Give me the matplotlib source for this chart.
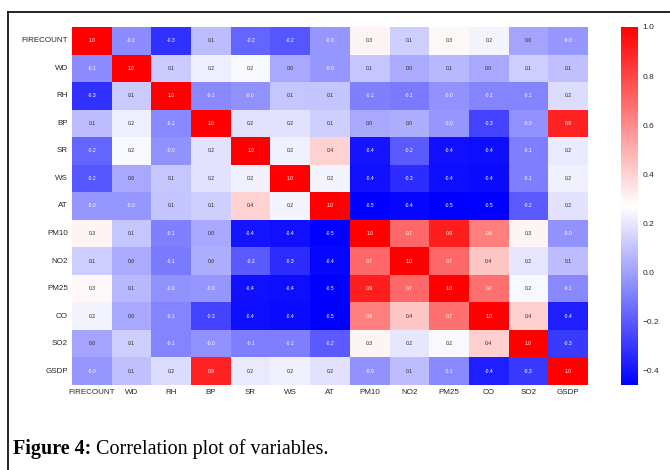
""" correlation heatmap, figure 4 """

import matplotlib
matplotlib.use("Agg")
import matplotlib.pyplot as plt
from matplotlib.lines import Line2D
import numpy as np
import seaborn as sns

variables = ["FIRECOUNT", "WD", "RH", "BP", "SR", "WS", "AT",
             "PM10", "NO2", "PM25", "CO", "SO2", "GSDP"]

# upper triangle of the correlation matrix, row by row (diagonal left out)
firecount = [-0.06, -0.32, 0.08, -0.17, -0.21, -0.03, 0.30, 0.13, 0.29, 0.24, 0.01, -0.03]
wd = [0.12, 0.22, 0.25, 0.02, -0.03, 0.11, 0.03, 0.07, 0.02, 0.13, 0.09]
rh = [-0.07, -0.04, 0.11, 0.10, -0.09, -0.11, -0.04, -0.08, -0.08, 0.17]
bp = [0.19, 0.19, 0.13, 0.02, 0.04, -0.03, -0.27, -0.04, 0.90]
sr = [0.23, 0.40, -0.40, -0.20, -0.41, -0.42, -0.10, 0.21]
ws = [0.24, -0.41, -0.33, -0.42, -0.43, -0.10, 0.23]
at = [-0.46, -0.44, -0.46, -0.455, -0.20, 0.19]
pm10 = [0.70, 0.91, 0.64, 0.30, -0.04]
no2 = [0.70, 0.43, 0.20, 0.08]
pm25 = [0.68, 0.25, -0.07]
co = [0.41, -0.37]
so2 = [-0.29]

rows = [firecount, wd, rh, bp, sr, ws, at, pm10, no2, pm25, co, so2]

# build the full symmetric matrix
n = len(variables)
corr = np.eye(n)
for i, r in enumerate(rows):
    corr[i, i + 1:] = r
    corr[i + 1:, i] = r

plt.rcParams['font.family'] = ['Liberation Sans', 'DejaVu Sans']

fig = plt.figure(figsize=(6.7, 4.7), dpi=100)
ax = fig.add_axes([0.1075, 0.1809, 0.7701, 0.7617])
cax = fig.add_axes([0.9269, 0.1809, 0.0254, 0.7617])

sns.heatmap(corr, ax=ax, cbar_ax=cax, cmap="bwr", annot=True, fmt=".1f",
            annot_kws={"size": 3.6}, xticklabels=variables, yticklabels=variables)

ax.tick_params(axis="both", length=0, labelsize=5.8, labelcolor="#262626", pad=3)
plt.setp(ax.get_xticklabels(), rotation=0)
plt.setp(ax.get_yticklabels(), rotation=0)

cax.tick_params(length=0, labelsize=6, labelcolor="#262626", pad=3)
cax.set_yticks([1.0, 0.8, 0.6, 0.4, 0.2, 0.0, -0.2, -0.4])

# frame lines (top and left) round the figure
fig.add_artist(Line2D([8 / 670, 1], [1 - 12 / 470, 1 - 12 / 470], color="black",
                      lw=1.2, transform=fig.transFigure))
fig.add_artist(Line2D([8 / 670, 8 / 670], [0, 1 - 12 / 470], color="black",
                      lw=1.2, transform=fig.transFigure))

# caption
t1 = fig.text(13 / 670, 1 - 459 / 470, "Figure 4:", fontsize=14.5, fontweight="bold",
              family="Liberation Serif", va="bottom", ha="left")
fig.text(0, 0, "")
ax.annotate(" Correlation plot of variables.", xy=(1, 0), xycoords=t1,
            fontsize=14.5, family="Liberation Serif", va="bottom", ha="left",
            annotation_clip=False)

fig.savefig("out.png", dpi=100, facecolor="white")
